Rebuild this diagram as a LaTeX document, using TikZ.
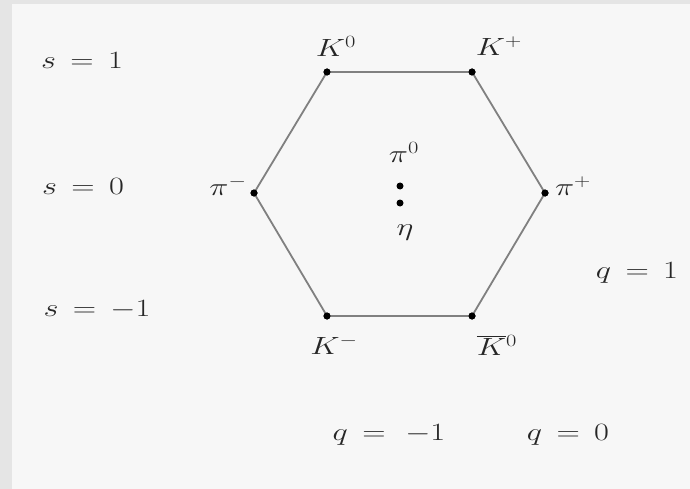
\documentclass[tikz,border=0pt]{standalone}
\usepackage{graphicx}
\begin{document}
\begin{tikzpicture}[x=1pt,y=-1pt,
  lbl/.style={inner sep=0pt,text=black!85},
  edge/.style={draw=black!50,line width=1.8pt},
  dot/.style={circle,fill=black,inner sep=0pt,minimum size=7pt}]
\newcommand{\wl}[1]{\scalebox{1.3}[1]{\fontsize{24}{28}\selectfont$#1$}}
\newcommand{\eqs}{\mathrel{\,=\,}}
\useasboundingbox (0,0) rectangle (690,489);
\fill[black!3] (0,0) rectangle (690,489);
\fill[black!10] (0,0) rectangle (12,489);
\fill[black!10] (0,0) rectangle (690,4);
% vertices
\node[dot] (K0) at (327,72) {};
\node[dot] (Kp) at (472,72) {};
\node[dot] (pim) at (254,193) {};
\node[dot] (pip) at (545,193) {};
\node[dot] (Km) at (327,316) {};
\node[dot] (K0b) at (472,316) {};
\node[dot] (pi0) at (400,186) {};
\node[dot] (eta) at (400,203) {};
\draw[edge] (K0.center) -- (Kp.center) -- (pip.center) -- (K0b.center) -- (Km.center) -- (pim.center) -- (K0.center);
\foreach \n in {K0,Kp,pim,pip,Km,K0b}{\fill (\n) circle (3.5pt);}
% particle labels
\node[lbl] (lK0) at (336,46) {\wl{K^0}};
\node[lbl] (lKp) at (499,46) {\wl{K^+}};
\node[lbl] (lpim) at (228,186) {\wl{\pi^-}};
\node[lbl] (lpip) at (573,186) {\wl{\pi^+}};
\node[lbl] (lKm) at (334,345) {\wl{K^-}};
\node[lbl] (lK0b) at (497,345) {\wl{\overline{K}{}^0}};
\node[lbl] (lpi0) at (404,152) {\wl{\pi^0}};
\node[lbl] (leta) at (405,233) {\wl{\eta}};
% axis labels
\node[lbl] (s1) at (82,60) {\wl{s\eqs1}};
\node[lbl] (s0) at (83,186) {\wl{s\eqs0}};
\node[lbl] (sm1) at (97,310) {\wl{s\eqs-1}};
\node[lbl] (q1) at (637,273) {\wl{q\eqs1}};
\node[lbl] (qm1) at (389,435) {\wl{q\eqs\,-1}};
\node[lbl] (q0) at (568,435) {\wl{q\eqs0}};
\end{tikzpicture}
\end{document}
